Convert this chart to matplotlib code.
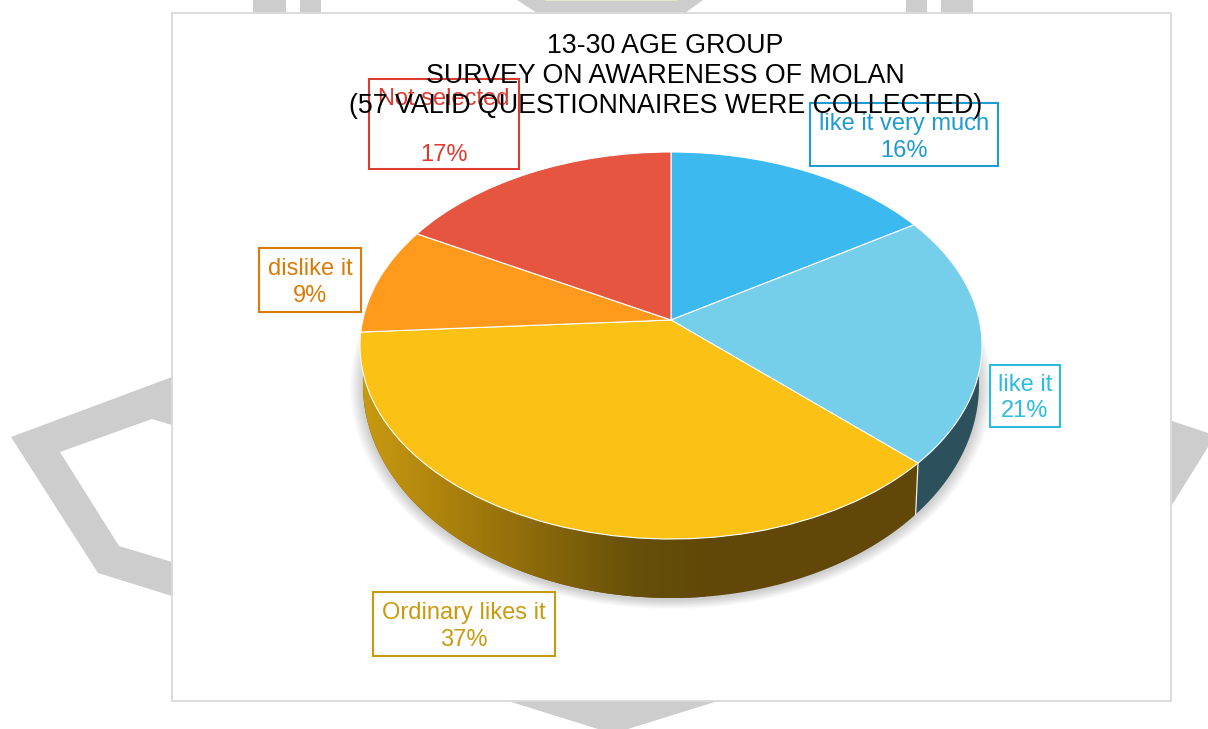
import numpy as np
import matplotlib
matplotlib.use("Agg")
import matplotlib.pyplot as plt
from matplotlib.colors import LinearSegmentedColormap
from matplotlib.patches import Rectangle, Polygon
from matplotlib.transforms import Transform

plt.rcParams["font.family"] = ["Liberation Sans", "DejaVu Sans"]

title = "13-30 AGE GROUP\nSURVEY ON AWARENESS OF MOLAN\n(57 VALID QUESTIONNAIRES WERE COLLECTED)"
categories = ["like it very much", "like it", "Ordinary likes it", "dislike it", "Not selected"]
percents = [16, 21, 37, 9, 17]

slice_colors = ["#3cb9ee", "#76cfea", "#fcc115", "#ff9a1d", "#e55540"]
label_colors = ["#1e9bd0", "#2cbce0", "#c99a0f", "#dc7a08", "#dc3b30"]
# x0, y0, x1, y1 of each label box in pixels, and the text centre
label_boxes = [(810, 103, 998, 166), (990, 365, 1060, 427), (373, 592, 555, 656),
               (259, 248, 361, 312), (369, 79, 519, 169)]
label_centers = [(904.5, 137.5), (1025, 398), (464, 626.5), (310, 282.5), (444, 127)]

GREY = "#cdcdcd"
CX, TOP, BOTTOM, APEX, HALF_W = 671, 152, 539, 320, 311
ELLIPSE_Y = (TOP + BOTTOM) / 2
ELLIPSE_RY = (BOTTOM - TOP) / 2
# lower rim of the disc wall
WALL_RX, WALL_RY, WALL_Y = 308, 213, 385


class Tilt(Transform):
    """Perspective map from the unit circle of ax.pie to the tilted disc in pixels."""
    input_dims = 2
    output_dims = 2
    is_separable = False
    has_inverse = False
    is_affine = False

    def __init__(self):
        super().__init__()
        self.c = (TOP + BOTTOM - 2 * APEX) / (BOTTOM - TOP)
        self.a = TOP * self.c - (APEX - TOP)
        self.k = HALF_W * np.sqrt(1 - self.c ** 2)

    def transform_non_affine(self, values):
        values = np.asarray(values, dtype=float)
        x, y = values[:, 0], values[:, 1]
        d = self.c * y + 1
        return np.column_stack([CX + self.k * x / d, (self.a * y + APEX) / d])


tilt = Tilt()


def rim(a0, a1, wall=False, n=120):
    # points along the disc edge between two clockwise angles, top rim or bottom rim
    t = np.linspace(a0, a1, n)
    pts = tilt.transform_non_affine(np.column_stack([np.sin(t), np.cos(t)]))
    if wall:
        pts[:, 0] = CX + (pts[:, 0] - CX) * WALL_RX / HALF_W
        pts[:, 1] = WALL_Y + (pts[:, 1] - ELLIPSE_Y) * WALL_RY / ELLIPSE_RY
    return pts


fig = plt.figure(figsize=(12.08, 7.29), dpi=100)
ax = fig.add_axes([0, 0, 1, 1])

# slices first, because ax.pie resets aspect and limits
wedges, _ = ax.pie(percents, colors=slice_colors, startangle=90, counterclock=False,
                   labeldistance=None,
                   wedgeprops=dict(edgecolor="white", linewidth=0.8, zorder=6))
for w in wedges:
    w.set_transform(tilt + ax.transData)

ax.set_aspect("auto")
ax.axis("off")

# grey shapes behind the chart panel
back_shapes = [
    [(172, 377), (11, 437), (98, 573), (172, 596), (172, 562), (119, 546), (60, 452), (152, 419), (172, 425)],
    [(1172, 421), (1208, 433), (1208, 447), (1172, 505)],
    [(253, 0), (286, 0), (286, 13), (253, 13)],
    [(300, 0), (321, 0), (321, 13), (300, 13)],
    [(906, 0), (927, 0), (927, 13), (906, 13)],
    [(941, 0), (973, 0), (973, 13), (941, 13)],
    [(517, 0), (703, 0), (685, 13), (537, 13)],
    [(508, 701), (718, 701), (628, 729), (598, 729)],
]
for s in back_shapes:
    ax.add_patch(Polygon(s, closed=True, facecolor=GREY, edgecolor="none", zorder=0))
ax.add_patch(Rectangle((545, 0), 132, 1.2, facecolor="#e4e4c8", edgecolor="none", zorder=0.5))

ax.add_patch(Rectangle((172, 13), 999, 688, facecolor="white", edgecolor="#d9d9d9",
                       linewidth=1.3, zorder=1))

# soft shadow under the disc
t = np.linspace(0, 2 * np.pi, 240)
for grow in np.linspace(13, 1, 12):
    sx = CX + (WALL_RX + grow) * np.cos(t)
    sy = WALL_Y + 2 + (WALL_RY + grow * 0.7) * np.sin(t)
    ax.fill(sx, sy, color="black", alpha=0.016, linewidth=0, zorder=2)

# side walls of the two front slices
edges = np.concatenate([[0], np.cumsum(percents)]) / np.sum(percents) * 2 * np.pi
blue_wall = np.vstack([rim(edges[1], edges[2]), rim(edges[1], edges[2], wall=True)[::-1]])
ax.add_patch(Polygon(blue_wall, closed=True, facecolor="#2c515c", edgecolor="none", zorder=3))

yellow_wall = np.vstack([rim(edges[2], edges[3]), rim(edges[2], edges[3], wall=True)[::-1]])
wall_base = Polygon(yellow_wall, closed=True, facecolor="#614808", edgecolor="none", zorder=3)
ax.add_patch(wall_base)
wall_cmap = LinearSegmentedColormap.from_list(
    "wall", [(0, "#cc9d11"), (0.2, "#b5890e"), (0.5, "#8f6c0b"), (0.8, "#675009"), (1, "#614808")])
grad = ax.imshow(np.linspace(0, 1, 320)[None, :], cmap=wall_cmap, aspect="auto",
                 extent=(350, 705, 610, 330), zorder=3.1)
grad.set_clip_path(wall_base)

ax.set_xlim(0, 1208)
ax.set_ylim(729, 0)

# thin light seam between the two walls
seam = np.vstack([rim(edges[2], edges[2], n=1), rim(edges[2], edges[2], wall=True, n=1)])
ax.plot(seam[:, 0], seam[:, 1], color="#f4f0e0", linewidth=0.9, zorder=4)

# label boxes sit on top of the slices, the title on top of them
for name, pct, col, box, c in zip(categories, percents, label_colors, label_boxes, label_centers):
    x0, y0, x1, y1 = box
    ax.add_patch(Rectangle((x0, y0), x1 - x0, y1 - y0, facecolor="none", edgecolor=col,
                           linewidth=1.5, zorder=7))
    if name == "Not selected":
        txt, spacing = f"{name}\n\n{pct}%", 1.33
    else:
        txt, spacing = f"{name}\n{pct}%", 1.24
    ax.text(c[0], c[1], txt, color=col, fontsize=17, ha="center", va="center",
            linespacing=spacing, zorder=8)

ax.text(665.5, 76, title, color="black", fontsize=19.25, ha="center", va="center",
        linespacing=1.21, zorder=9)

fig.savefig("out.png", dpi=100, facecolor="white")
